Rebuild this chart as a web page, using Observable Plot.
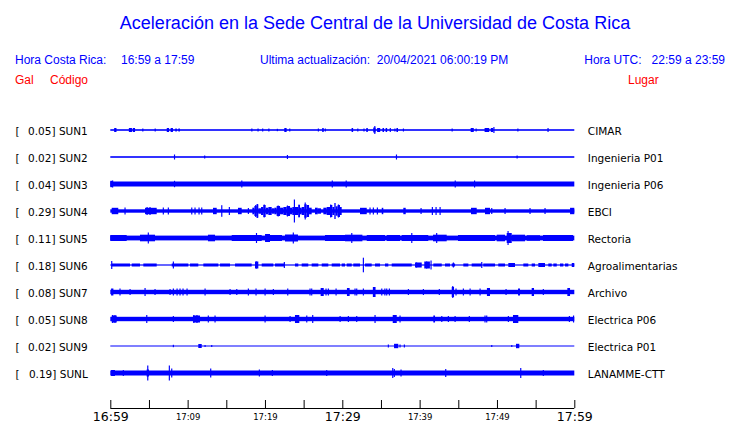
<!DOCTYPE html>
<html><head><meta charset="utf-8">
<script src="https://cdn.jsdelivr.net/npm/d3@7"></script>
<script src="https://cdn.jsdelivr.net/npm/@observablehq/plot@0.6"></script>
<style>
body{margin:0;background:#fff;width:740px;height:423px;overflow:hidden}
#hdr{position:relative;height:110px;font-family:"Liberation Sans",Arial,sans-serif;font-size:12px}
#hdr div{position:absolute;white-space:pre;line-height:1}
.b{color:#0000ff}.r{color:#ff0000}
#chart svg{display:block}
</style></head><body>
<div id="hdr">
 <div class="b" style="left:375px;top:13.5px;transform:translateX(-50%);font-size:18px">Aceleración en la Sede Central de la Universidad de Costa Rica</div>
 <div class="b" style="left:15px;top:54px">Hora Costa Rica:</div>
 <div class="b" style="left:121px;top:54px">16:59 a 17:59</div>
 <div class="b" style="left:260px;top:54px">Ultima actualización:  20/04/2021 06:00:19 PM</div>
 <div class="b" style="right:15px;top:54px">Hora UTC:   22:59 a 23:59</div>
 <div class="r" style="left:15px;top:74px">Gal</div>
 <div class="r" style="left:50px;top:74px">Código</div>
 <div class="r" style="left:628px;top:74px">Lugar</div>
</div>
<div id="chart"></div>
<script>
// ---- data ----
const stations = ["SUN1","SUN2","SUN3","SUN4","SUN5","SUN6","SUN7","SUN8","SUN9","SUNL"];
const peakGal  = ["0.05","0.02","0.04","0.29","0.11","0.18","0.08","0.05","0.02","0.19"];
const places   = ["CIMAR","Ingenieria P01","Ingenieria P06","EBCI","Rectoria","Agroalimentarias","Archivo","Electrica P06","Electrica P01","LANAMME-CTT"];
// background (noise) half-amplitude of each trace
const baseAmp  = [0.8, 0.8, 2.5, 1.7, 2.4, 0.6, 2.2, 2.2, 0.5, 2.5];
// events: [minute, amp] = single spike ; [minuteStart, minuteEnd, amp] = burst segment
const sun1 = [[0.5,0.8,2],[2.4,2.8,2],[2.9,3.2,2],[4.2,1.5],[5.8,1.5],[7.3,7.6,2],[7.8,8.1,2],[8.4,8.6,1.5],[8.8,9.0,1.5],
  [18.3,1.5],[19.1,1.5],[19.7,1.5],[20.5,1.5],[21.6,1.2],[22.5,22.8,2],[23.2,1.5],[26.9,1.5],[27.4,27.6,2],[27.8,1.5],
  [31.2,31.4,2],[32.0,1.5],[32.8,1.5],[33.1,33.3,2],[34.0,34.3,2.5],[34.2,4],[34.5,34.9,2],[35.2,35.4,2],[35.6,35.8,2],
  [36.2,2],[36.8,1.5],[37.0,37.2,2],[37.9,1.5],[44.2,1.5],[46.6,47.0,2],[47.3,1.5],[48.4,49.0,2],[49.2,49.5,2],[49.6,3],
  [52.7,1.5],[56.6,2]];
const sun2 = [[8.3,2.5],[12.2,1.5],[22.9,2],[37.0,2.5],[52.6,1.5]];
const sun3 = [[0,0.3,3.2],[0.3,3.5],[8.3,3.2],[17.0,3.5],[28.7,3.5],[30.5,3.5],[44.6,3.5],[47.1,3.5]];
const sun4 = [[0.18,1.03,3.2],[1.9,3.5],[4.49,6.0,3.2],[4.75,4],[5.13,4],[6.85,3.5],[7.5,3.5],[10.53,3.5],[10.95,3.5],[11.47,3.5],
  [11.82,3.5],[13.28,13.76,3.2],[14.41,5.8],[15.39,4],[16.51,16.99,3.2],[17.85,3],
  [18.37,18.63,3.3],[18.63,18.93,5],[18.93,19.14,6.7],[19.14,19.49,2.7],[19.49,19.79,4],[19.79,20.09,6],[20.09,20.44,3.3],
  [20.44,20.87,4],[20.87,21.21,2.7],[21.21,21.51,3.3],[21.51,21.95,5],[21.95,22.38,3.3],[22.38,22.81,4],[22.81,23.24,5],
  [23.24,23.54,3.3],[23.54,23.75,4],[23.8,11.5],[23.88,24.32,4],[24.32,24.53,6],[24.53,24.75,3.3],[24.75,25.09,4],
  [25.09,25.39,6.7],[25.2,8.5],[25.39,25.70,6],[25.70,26.04,3.3],[26.47,26.82,3.3],[26.82,27.25,2.7],[27.55,27.98,3.3],
  [27.98,28.41,4],[28.41,28.71,6],[28.71,28.97,4],[28.97,29.14,8],[29.14,29.40,4.7],[29.40,29.70,6],[29.70,29.92,4],
  [18.8,6],[19.0,7],[19.9,6.5],[21.7,5.5],[22.9,5.5],[24.4,6.5],[28.5,6.5],[29.5,6.5],
  [32.29,33.16,3.2],[33.58,3.5],[34.01,3.5],[34.53,3.5],[35.1,35.3,3.2],[37.89,38.2,3.2],[40.18,3],[41.64,4],[42.12,4],[42.64,4],
  [46.64,47.38,3.2],[48.45,49.1,3.2],[49.32,3],[51.04,3],[54.27,3],[56.21,3],[59.45,60,3.2]];
const sun5 = [[0,2.12,3],[3.84,5.78,3.3],[4.91,5.5],[12.63,13.54,3.3],[15.7,19.58,3],[18.9,5],[20.01,20.65,4],[20.65,22.2,3],
  [22.59,24.27,3.5],[23.66,5.5],[27.76,30.35,3],[30.35,32.6,3.3],[31.22,5],[33.16,35.52,3],[35.74,37.46,3],[37.68,41.12,3],
  [38.98,5],[41.73,43.5,3.3],[42.2,5],[44.96,49.75,3],[49.97,51.04,3.3],[51.26,51.91,5],[51.43,7],[51.91,53.63,3.3],
  [53.85,55.57,2.8],[55.95,59.83,3]];
const sun6 = [[0.18,2.55,1.5],[2.77,3.84,1.5],[4.27,6.0,1.5],[7.94,10.09,1.5],[10.31,11.38,1.5],[12.03,13.97,1.5],[14.19,15.48,1.5],
  [16.13,18.28,1.5],[18.71,19.14,3.5],[19.58,21.08,1.5],[21.3,22.59,1.5],[23.88,24.31,1.5],[24.75,25.6,1.5],[26.04,26.9,1.5],
  [27.34,28.19,1.5],[28.63,29.71,1.5],[29.92,30.35,1.5],[30.57,31.22,1.5],[31.42,32.29,1.5],[32.94,33.8,1.5],[34.23,34.88,1.5],
  [35.52,35.95,1.5],[36.39,38.98,1.5],[39.4,40.27,2.5],[40.6,41.33,3.5],[41.77,42.86,1.5],[43.28,43.93,1.5],[44.15,44.58,1.5],
  [45.65,46.3,1.5],[46.73,48.03,1.5],[48.23,49.75,1.5],[50.17,51.04,1.5],[51.47,52.33,2],[53.41,54.05,1.5],[54.49,54.92,1.5],
  [55.35,56.21,2],[56.64,57.08,1.5],[57.29,57.73,1.5],[58.15,58.58,1.5],[58.8,59.23,1.5],[59.67,60,2],
  [0.18,4],[8.15,3.5],[18.9,3.5],[22.5,3],[32.72,7.3],[39.6,2.5],[40.9,3.5],[41.47,4.5],[44.36,2.5],[48.03,3]];
const sun7 = [[0.1,0.4,3.5],[1.25,3.5],[2.55,3],[4.49,4],[5.78,3],[7.72,3],[8.15,3.5],[8.63,3.5],[9.01,3.5],[9.4,3.5],[9.92,3.5],
  [12.25,3.5],[15.48,3],[16.35,3],[17.85,3.5],[18.84,3.5],[20.01,3.5],[21.08,3],[22.94,3.5],[25.82,3.5],[26.04,3.5],
  [27.2,27.6,4],[27.89,3.5],[28.19,3.5],[29.19,3.5],[30.6,30.95,4],[31.64,3.5],[31.86,3.5],[32.72,3.5],[33.95,34.3,5],
  [35.1,3.5],[35.5,3.5],[35.74,3.5],[36.08,3.5],[38.54,3],[40.48,3],[42.54,3],[44.15,44.45,5],[44.28,6],[44.7,3.5],
  [45.65,3.5],[46.52,3.5],[47.81,3.5],[48.7,49.1,4],[51.17,3],[52.72,52.98,3.5],[54.49,54.79,4],[55.99,3],[59.1,59.45,4]];
const sun8 = [[0.18,0.83,3.5],[0.3,4],[0.6,4],[4.71,4],[8.15,3],[10.69,11.6,3.5],[10.8,4],[11.2,4],[12.67,3.5],[13.54,3.5],
  [20.01,3.5],[23.24,3],[23.88,24.44,4],[25.4,3.5],[26.17,4],[29.71,3],[30.78,3],[31.86,3],[34.23,4],[36.52,37.04,4],
  [37.46,3.5],[41.77,41.99,3.5],[42.86,3],[43.71,3],[44.58,3],[46.42,3],[48.45,3.5],[48.67,3.5],[51.47,3],
  [52.07,52.76,4],[59.36,3],[59.9,3.5]];
const sun9 = [[8.15,1.2],[11.38,11.82,2],[12.25,1],[13.11,1],[35.95,1.5],[36.69,37.24,2.2],[37.46,1.5],[38.02,1.5],
  [49.32,1],[51.91,1],[52.46,52.89,2.2]];
const sunL = [[0.1,0.6,3],[1.68,3],[4.7,5.0,3.5],[4.84,7.5],[7.63,7.5],[7.94,4.5],[12.98,4.5],[19.27,3.5],[20.95,3],
  [27.98,3],[36.52,5],[36.72,4],[37.59,3.5],[43.37,4],[53.07,5],[55.99,3]];
const events = [sun1,sun2,sun3,sun4,sun5,sun6,sun7,sun8,sun9,sunL];
// time axis (minutes after 16:59)
const tickMinutes = [0,5,10,15,20,25,30,35,40,45,50,55,60];
const labelMinutes = [0,10,20,30,40,50,60];
const labelText = ["16:59","17:09","17:19","17:29","17:39","17:49","17:59"];
const labelBig = [true,false,false,true,false,false,true];

// ---- build tables ----
const U = 27; // amplitude units per trace row
const rows = stations.map((s,i)=>({i, s, peak: peakGal[i], place: places[i], a: baseAmp[i], t1: 0, t2: 60}));
const ev = events.flatMap((list,i)=>list.map(e => e.length===2
  ? {i, t1: e[0]-0.07, t2: e[0]+0.08, a: e[1]}
  : {i, t1: e[0], t2: e[1], a: e[2]}));
const labs = labelMinutes.map((m,k)=>({m, text: labelText[k], big: labelBig[k]}));
const blue = "#0000ff";
const yTop = d => d.i - d.a/U, yBot = d => d.i + d.a/U;
const yMin = -20/U, yMax = 278/U;

const chart = Plot.plot({
  width: 740, height: 313,
  marginLeft: 110.3, marginRight: 165.7, marginTop: 0, marginBottom: 15,
  x: {domain: [0, 60], axis: null},
  y: {domain: [yMin, yMax], range: [0, 298], axis: null},
  style: {fontFamily: "DejaVu Sans", background: "white"},
  marks: [
    Plot.rect(rows, {x1: "t1", x2: "t2", y1: yTop, y2: yBot, fill: blue}),
    Plot.rect(ev, {x1: "t1", x2: "t2", y1: yTop, y2: yBot, fill: blue}),
    Plot.text(rows, {x: () => 0, y: "i", text: () => "[", textAnchor: "start", dx: -95.3, dy: 1, fontSize: 10.5, fill: "black"}),
    Plot.text(rows, {x: () => 0, y: "i", text: d => `${d.peak}] ${d.s}`, textAnchor: "end", dx: -23, dy: 1, fontSize: 10.5, fill: "black"}),
    Plot.text(rows, {x: () => 60, y: "i", text: "place", textAnchor: "start", dx: 13, dy: 1, fontSize: 10.5, fill: "black"}),
    Plot.ruleY([yMax], {stroke: "black"}),
    Plot.ruleX(tickMinutes, {x: d => d, insetTop: 290, stroke: "black"}),
    Plot.text(labs.filter(d => d.big), {x: "m", text: "text", frameAnchor: "bottom", lineAnchor: "top", dy: 3.5, fontSize: 12.5, fill: "black", style: {letterSpacing: "0.3px"}}),
    Plot.text(labs.filter(d => !d.big), {x: "m", text: "text", frameAnchor: "bottom", lineAnchor: "top", dy: 5, fontSize: 8.5, fill: "black"})
  ]
});
document.getElementById("chart").append(chart);
</script>
</body></html>
